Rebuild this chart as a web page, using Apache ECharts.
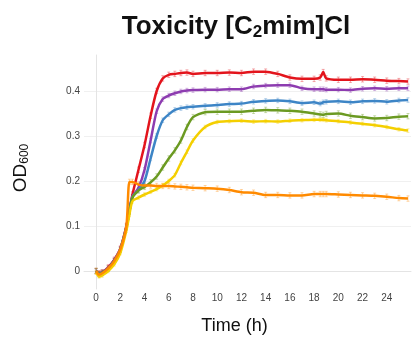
<!DOCTYPE html>
<html>
<head>
<meta charset="utf-8">
<script src="https://cdn.jsdelivr.net/npm/echarts@6/dist/echarts.min.js"></script>
<style>
  html, body { margin: 0; padding: 0; background: #fff; }
  #chart { width: 414px; height: 337px; }
</style>
</head>
<body>
<div id="chart"></div>
<script>
// time points (h)
const times = [0, 0.25, 0.5, 1, 1.5, 2, 2.5, 2.75, 3, 3.5, 4, 4.5, 5, 5.5, 6, 6.5, 7, 7.5, 8, 9, 10, 11, 12, 13, 14, 15, 16, 17, 18, 18.5, 18.75, 19, 20, 21, 22, 23, 24, 25, 25.75]

const red = [0, -0.005, -0.003, 0.008, 0.025, 0.05, 0.1, 0.135, 0.17, 0.225, 0.28, 0.345, 0.4, 0.428, 0.436, 0.438, 0.44, 0.441, 0.438, 0.44, 0.44, 0.441, 0.44, 0.443, 0.443, 0.438, 0.43, 0.427, 0.427, 0.43, 0.442, 0.428, 0.425, 0.425, 0.426, 0.425, 0.423, 0.422, 0.421]
const purple = [0, -0.006, -0.003, 0.007, 0.024, 0.049, 0.098, 0.133, 0.165, 0.185, 0.225, 0.29, 0.355, 0.382, 0.39, 0.395, 0.399, 0.401, 0.402, 0.403, 0.403, 0.404, 0.404, 0.41, 0.412, 0.413, 0.413, 0.406, 0.404, 0.404, 0.404, 0.403, 0.403, 0.402, 0.405, 0.406, 0.405, 0.406, 0.406]
const blue = [0, -0.006, -0.004, 0.006, 0.023, 0.048, 0.097, 0.132, 0.165, 0.18, 0.2, 0.25, 0.3, 0.335, 0.348, 0.358, 0.362, 0.364, 0.365, 0.367, 0.369, 0.371, 0.372, 0.376, 0.378, 0.379, 0.377, 0.373, 0.375, 0.372, 0.375, 0.376, 0.377, 0.375, 0.377, 0.378, 0.376, 0.379, 0.38]
const green = [0, -0.007, -0.004, 0.005, 0.022, 0.047, 0.096, 0.131, 0.163, 0.179, 0.187, 0.197, 0.21, 0.23, 0.25, 0.268, 0.29, 0.32, 0.342, 0.353, 0.354, 0.354, 0.354, 0.356, 0.358, 0.357, 0.356, 0.354, 0.35, 0.348, 0.347, 0.349, 0.35, 0.345, 0.342, 0.339, 0.34, 0.343, 0.344]
const yellow = [-0.003, -0.012, -0.01, 0, 0.015, 0.04, 0.09, 0.125, 0.155, 0.163, 0.17, 0.176, 0.182, 0.19, 0.2, 0.213, 0.24, 0.265, 0.29, 0.32, 0.331, 0.333, 0.334, 0.332, 0.333, 0.332, 0.334, 0.335, 0.336, 0.336, 0.336, 0.335, 0.333, 0.33, 0.327, 0.324, 0.32, 0.315, 0.312]
const orange = [0, -0.008, -0.005, 0.006, 0.022, 0.048, 0.1, 0.198, 0.198, 0.192, 0.19, 0.19, 0.189, 0.189, 0.189, 0.188, 0.187, 0.186, 0.185, 0.184, 0.183, 0.18, 0.175, 0.174, 0.169, 0.169, 0.168, 0.168, 0.171, 0.171, 0.171, 0.171, 0.17, 0.169, 0.168, 0.167, 0.165, 0.162, 0.161]

const names = ['red', 'purple', 'blue', 'green', 'yellow', 'orange']
const colors = ['#e3141c', '#8d3cb0', '#3d85c6', '#6b9a22', '#f4cf00', '#ff8a00']
const errs = [0.006, 0.005, 0.005, 0.006, 0.004, 0.006]

const values = [red, purple, blue, green, yellow, orange]

const chart = echarts.init(document.getElementById('chart'))

const lineSeries = values.map((vals, i) => ({
  name: names[i],
  type: 'line',
  data: times.map((t, k) => [t, vals[k]]),
  showSymbol: false,
  smooth: 0.25,
  lineStyle: { width: 2.5, color: colors[i] },
  z: 3
}))

// light error bars
const errSeries = values.map((vals, i) => ({
  type: 'custom',
  data: times.map((t, k) => [t, vals[k] - errs[i], vals[k] + errs[i]]),
  renderItem: (params, api) => {
    const lo = api.coord([api.value(0), api.value(1)])
    const hi = api.coord([api.value(0), api.value(2)])
    const st = { stroke: colors[i], opacity: 0.35, lineWidth: 1 }
    return {
      type: 'group',
      children: [
        { type: 'line', shape: { x1: lo[0], y1: lo[1], x2: hi[0], y2: hi[1] }, style: st },
        { type: 'line', shape: { x1: lo[0] - 1.5, y1: lo[1], x2: lo[0] + 1.5, y2: lo[1] }, style: st },
        { type: 'line', shape: { x1: hi[0] - 1.5, y1: hi[1], x2: hi[0] + 1.5, y2: hi[1] }, style: st }
      ]
    }
  },
  silent: true,
  z: 2
}))

const option = {
  animation: false,
  textStyle: { fontFamily: 'Liberation Sans, Arial, sans-serif' },
  title: {
    text: 'Toxicity [C{sub|2}mim]Cl',
    left: 231,
    top: 7,
    textAlign: 'center',
    textStyle: {
      fontSize: 26,
      fontWeight: 'bold',
      color: '#111',
      fontFamily: 'Liberation Sans, Arial, sans-serif',
      rich: {
        sub: { fontSize: 17, fontWeight: 'bold', color: '#111', verticalAlign: 'bottom', padding: [12, 0, 0, 0], fontFamily: 'Liberation Sans, Arial, sans-serif' }
      }
    }
  },
  grid: { left: 84, right: 3, top: 55, bottom: 48, outerBoundsMode: 'none' },
  xAxis: {
    type: 'value',
    min: -1,
    max: 26,
    interval: 1,
    name: 'Time (h)',
    nameLocation: 'middle',
    nameGap: 28,
    nameTextStyle: { fontSize: 18, color: '#111', padding: [0, 26, 0, 0] },
    axisLine: { show: true, lineStyle: { color: '#e4e4e4' } },
    axisTick: { show: false },
    splitLine: { show: false },
    axisLabel: {
      fontSize: 10,
      color: '#444',
      margin: 4,
      formatter: v => (v >= 0 && v <= 24 && v % 2 === 0) ? String(v) : ''
    }
  },
  yAxis: {
    type: 'value',
    min: -0.04,
    max: 0.48,
    splitNumber: 5,
    name: 'OD{sub|600}',
    nameLocation: 'middle',
    nameGap: 53,
    nameRotate: 90,
    nameTextStyle: {
      fontSize: 19,
      color: '#111',
      padding: [0, 0, 0, 8],
      rich: {
        sub: { fontSize: 12, color: '#111', verticalAlign: 'bottom', padding: [8, 0, 0, 0] }
      }
    },
    axisLine: { show: true, lineStyle: { color: '#e4e4e4' } },
    axisTick: { show: false },
    splitLine: { show: true, showMinLine: false, showMaxLine: false, lineStyle: { color: '#f0f0f0' } },
    axisLabel: {
      fontSize: 10,
      color: '#444',
      margin: 4,
      showMinLabel: false,
      showMaxLabel: false,
      formatter: v => {
        const r = Math.round(v * 10) / 10
        return Math.abs(r - v) < 1e-6 ? String(r) : ''
      }
    }
  },
  series: [...errSeries, ...lineSeries]
}

chart.setOption(option)
</script>
</body>
</html>
